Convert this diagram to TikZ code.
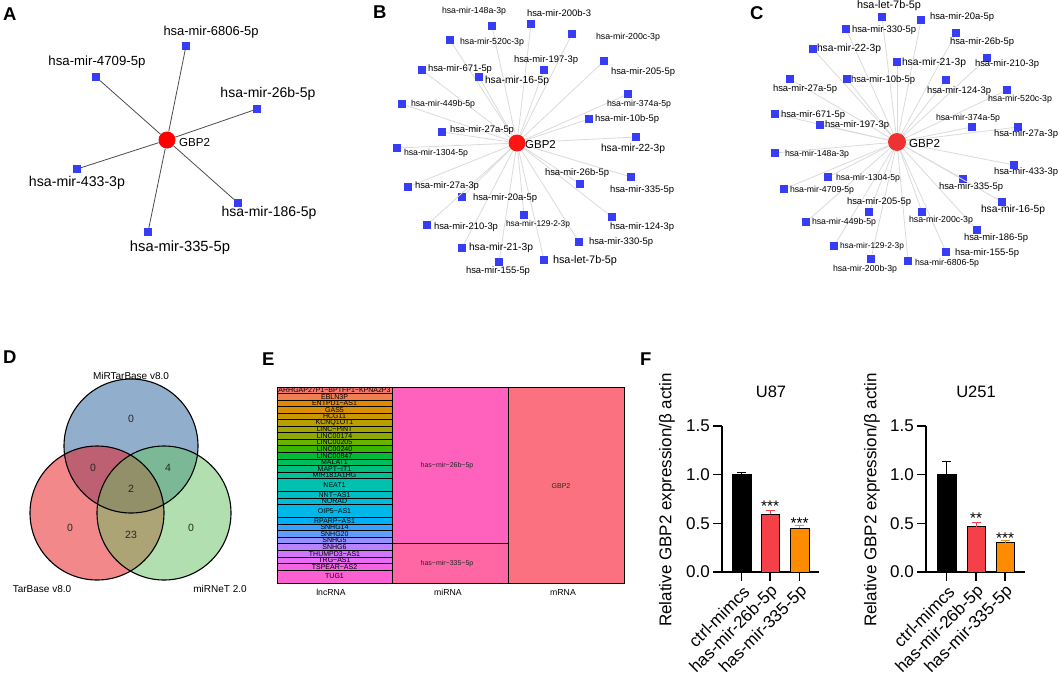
\documentclass[tikz,border=0pt]{standalone}
\usepackage{fontspec}
\setmainfont{Liberation Sans}
\definecolor{sqblue}{RGB}{55,60,245}
\definecolor{hubredA}{RGB}{255,0,0}
\definecolor{hubredB}{RGB}{255,20,20}
\definecolor{hubredC}{RGB}{238,50,50}
\definecolor{vblue}{RGB}{37,97,157}
\definecolor{vred}{RGB}{233,19,23}
\definecolor{vgreen}{RGB}{103,193,97}
\definecolor{barred}{RGB}{244,64,70}
\definecolor{barorange}{RGB}{255,140,0}
\definecolor{e1}{HTML}{F8766D}\definecolor{e2}{HTML}{F07E4E}\definecolor{e3}{HTML}{E58700}
\definecolor{e4}{HTML}{D89000}\definecolor{e5}{HTML}{C99800}\definecolor{e6}{HTML}{B79F00}
\definecolor{e7}{HTML}{A3A500}\definecolor{e8}{HTML}{8CAB00}\definecolor{e9}{HTML}{6BB100}
\definecolor{e10}{HTML}{39B600}\definecolor{e11}{HTML}{00BA38}\definecolor{e12}{HTML}{00BD5C}
\definecolor{e13}{HTML}{00BF7D}\definecolor{e14}{HTML}{00C097}\definecolor{e15}{HTML}{00C0AF}
\definecolor{e16}{HTML}{00BFC4}\definecolor{e17}{HTML}{00BCD8}\definecolor{e18}{HTML}{00B8E7}
\definecolor{e19}{HTML}{00B0F6}\definecolor{e20}{HTML}{35A2FF}\definecolor{e21}{HTML}{619CFF}
\definecolor{e22}{HTML}{9590FF}\definecolor{e23}{HTML}{B983FF}\definecolor{e24}{HTML}{D376FF}
\definecolor{e25}{HTML}{E76BF3}\definecolor{e26}{HTML}{F564E3}\definecolor{e27}{HTML}{FD61D1}
\definecolor{e28}{HTML}{FF62BC}\definecolor{e29}{HTML}{FF67A4}\definecolor{e30}{HTML}{FC717F}
\newcommand\mylab[1]{\resizebox{64pt}{!}{#1}}
\def\Blist{1/492/26/474/11/hsa-mir-148a-3p, 2/531/24/559/13/hsa-mir-200b-3, 3/450/40/492/42/hsa-mir-520c-3p,
4/572/34/628/37/hsa-mir-200c-3p, 5/544/70/546/60/hsa-mir-197-3p, 6/604/61/643/72/hsa-mir-205-5p,
7/422/70/460/69/hsa-mir-671-5p, 8/479/77/517/81/hsa-mir-16-5p, 9/402/104/443/104/hsa-mir-449b-5p,
10/628/94/639/104/hsa-mir-374a-5p, 11/589/119/627/119/hsa-mir-10b-5p, 12/442/132/482/130/hsa-mir-27a-5p,
13/636/137/633/149/hsa-mir-22-3p, 14/397/148/436/153/hsa-mir-1304-5p, 15/580/184/577/173/hsa-mir-26b-5p,
16/631/177/642/190/hsa-mir-335-5p, 17/408/187/447/186/hsa-mir-27a-3p, 18/462/197/505/198/hsa-mir-20a-5p,
19/524/215/538/224/hsa-mir-129-2-3p, 20/612/217/642/227/hsa-mir-124-3p, 21/427/225/466/227/hsa-mir-210-3p,
22/579/242/621/242/hsa-mir-330-5p, 23/462/248/501/248/hsa-mir-21-3p, 24/544/260/585/261/hsa-let-7b-5p,
25/499/262/498/271/hsa-mir-155-5p}
\def\Clist{1/882/17/889/6/hsa-let-7b-5p, 2/921/20/962/17/hsa-mir-20a-5p, 3/846/29/884/30/hsa-mir-330-5p,
4/956/33/982/42/hsa-mir-26b-5p, 5/813/49/849/49/hsa-mir-22-3p, 6/897/62/934/63/hsa-mir-21-3p,
7/987/58/1007/64/hsa-mir-210-3p, 8/790/79/805/89/hsa-mir-27a-5p, 9/847/79/883/80/hsa-mir-10b-5p,
10/946/80/959/91/hsa-mir-124-3p, 11/1007/90/1020/99/hsa-mir-520c-3p, 12/775/114/813/115/hsa-mir-671-5p,
13/820/125/857/125/hsa-mir-197-3p, 14/972/127/968/118/hsa-mir-374a-5p, 15/1018/127/1026/134/hsa-mir-27a-3p,
16/775/153/817/154/hsa-mir-148a-3p, 17/1014/165/1026/172/hsa-mir-433-3p, 18/828/177/868/178/hsa-mir-1304-5p,
19/963/179/971/187/hsa-mir-335-5p, 20/784/189/822/190/hsa-mir-4709-5p, 21/1002/202/1013/210/hsa-mir-16-5p,
22/869/212/879/202/hsa-mir-205-5p, 23/922/212/941/220/hsa-mir-200c-3p, 24/806/222/844/222/hsa-mir-449b-5p,
25/977/230/996/238/hsa-mir-186-5p, 26/834/246/872/246/hsa-mir-129-2-3p, 27/946/252/987/253/hsa-mir-155-5p,
28/871/259/865/269/hsa-mir-200b-3p, 29/908/261/947/263/hsa-mir-6806-5p}
\def\Erows{0/1/e1/{ARHGAP27P1−BPTFP1−KPNA2P3}, 1/1/e2/EBLN3P, 2/1/e3/{ENTPD1−AS1}, 3/1/e4/GAS5, 4/1/e5/HCG11,
5/1/e6/KCNQ1OT1, 6/1/e7/{LINC−PINT}, 7/1/e8/LINC00174, 8/1/e9/LINC00205, 9/1/e10/LINC00240,
10/1/e11/LINC00847, 11/1/e12/MALAT1, 12/1/e13/{MAPT−IT1}, 13/1/e14/MIR181A1HG, 14/2/e15/NEAT1,
16/1/e16/{NNT−AS1}, 17/1/e17/NORAD, 18/2/e18/{OIP5−AS1}, 20/1/e19/{RPARP−AS1}, 21/1/e20/SNHG14,
22/1/e21/SNHG20, 23/1/e22/SNHG5, 24/1/e23/SNHG6, 25/1/e24/{THUMPD3−AS1}, 26/1/e25/{TRG−AS1},
27/1/e26/{TSPEAR−AS2}, 28/2/e27/TUG1}
\begin{document}
\begin{tikzpicture}[x=1pt,y=-1pt,
  sq/.style={rectangle, fill=sqblue, minimum size=8pt, inner sep=0pt},
  hubnode/.style={circle, minimum size=17pt, inner sep=0pt},
  edgeA/.style={draw=black!70, line width=0.8pt},
  edgeL/.style={draw=black!14, line width=0.8pt},
  lbl/.style={inner sep=0pt},
  plab/.style={inner sep=0pt, anchor=base west, font=\fontsize{18.5}{20}\selectfont\bfseries},
  vc/.style={draw=black, line width=1.1pt},
  vtxt/.style={inner sep=0pt, font=\fontsize{10}{12}\selectfont},
  vnum/.style={inner sep=0pt, font=\fontsize{10.5}{12}\selectfont, text=black!85},
  cell/.style={draw=black, line width=0.7pt},
  celltxt/.style={inner sep=0pt, font=\fontsize{7}{7}\selectfont},
  axis/.style={line width=1.3pt},
  tl/.style={inner sep=0pt, font=\fontsize{17}{17}\selectfont},
  star/.style={inner sep=0pt, anchor=base, font=\fontsize{15.4}{16}\selectfont}]
\useasboundingbox (0,0) rectangle (1059,680);
\fill[white] (0,0) rectangle (1059,680);

% ---------- panel labels
\node[plab] (pA) at (3,20) {A};
\node[plab] (pB) at (373,18) {B};
\node[plab] (pC) at (750,19) {C};
\node[plab] (pD) at (3,363) {D};
\node[plab] (pE) at (262,365) {E};
\node[plab] (pF) at (640,365) {F};

% ---------- panel A
\node[hubnode, fill=hubredA] (ga) at (167,140) {};
\foreach \n/\sx/\sy in {1/186/46, 2/96/77, 3/257/109, 4/77/169, 5/238/203, 6/148/232}{
  \node[sq] (a\n) at (\sx,\sy) {};
  \draw[edgeA] (ga) -- (a\n);
}
\node[lbl, anchor=west, font=\fontsize{11.6}{12}\selectfont] (gat) at (179,143) {GBP2};
\node[lbl] (at1) at (211,32) {\resizebox{95pt}{!}{hsa-mir-6806-5p}};
\node[lbl] (at2) at (97,62) {\resizebox{97pt}{!}{hsa-mir-4709-5p}};
\node[lbl] (at3) at (268,94) {\resizebox{95pt}{!}{hsa-mir-26b-5p}};
\node[lbl] (at4) at (77,183) {\resizebox{96pt}{!}{hsa-mir-433-3p}};
\node[lbl] (at5) at (269,213) {\resizebox{95pt}{!}{hsa-mir-186-5p}};
\node[lbl] (at6) at (180,248) {\resizebox{100pt}{!}{hsa-mir-335-5p}};

% ---------- panel B
\node[hubnode, fill=hubredB] (gb) at (517,143) {};
\foreach \n/\sx/\sy/\lx/\ly/\txt in \Blist{
  \node[sq] (b\n) at (\sx,\sy) {};
  \draw[edgeL] (gb) -- (b\n);
}
\foreach \n/\sx/\sy/\lx/\ly/\txt in \Blist{
  \node[lbl] (bl\n) at (\lx,\ly) {\mylab{\txt}};
}
\node[lbl, anchor=west, font=\fontsize{11.5}{12}\selectfont] (gbt) at (525,145) {GBP2};

% ---------- panel C
\node[hubnode, minimum size=18pt, fill=hubredC] (gc) at (897,142) {};
\foreach \n/\sx/\sy/\lx/\ly/\txt in \Clist{
  \node[sq] (c\n) at (\sx,\sy) {};
  \draw[edgeL] (gc) -- (c\n);
}
\foreach \n/\sx/\sy/\lx/\ly/\txt in \Clist{
  \node[lbl] (cl\n) at (\lx,\ly) {\mylab{\txt}};
}
\node[lbl, anchor=west, font=\fontsize{11.6}{12}\selectfont] (gct) at (909,144) {GBP2};

% ---------- panel D (Venn)
\fill[vblue, fill opacity=0.5] (131,446) circle[radius=67pt];
\fill[vred, fill opacity=0.5] (97,513) circle[radius=67pt];
\fill[vgreen, fill opacity=0.5] (164,513) circle[radius=67pt];
\draw[vc] (131,446) circle[radius=67pt];
\draw[vc] (97,513) circle[radius=67pt];
\draw[vc] (164,513) circle[radius=67pt];
\node[vtxt] (dl1) at (131,376) {MiRTarBase v8.0};
\node[vtxt] (dl2) at (42,589) {TarBase v8.0};
\node[vtxt] (dl3) at (220,589) {miRNeT 2.0};
\node[vnum] (dn1) at (131,419) {0};
\node[vnum] (dn2) at (93,468) {0};
\node[vnum] (dn3) at (168,468) {4};
\node[vnum] (dn4) at (131,489) {2};
\node[vnum] (dn5) at (70,528) {0};
\node[vnum] (dn6) at (131,535) {23};
\node[vnum] (dn7) at (191,528) {0};

% ---------- panel E (treemap)
\filldraw[fill=e28, cell] (392,387) rectangle (508,543.8);
\filldraw[fill=e29, cell] (392,543.8) rectangle (508,583);
\filldraw[fill=e30, cell] (508,387) rectangle (624,583);
\node[celltxt, text=black!85] (m1) at (447,466) {has−mir−26b−5p};
\node[celltxt, text=black!85] (m2) at (447,564) {has−mir−335−5p};
\node[celltxt, text=black!85] (m3) at (561,486) {GBP2};
\foreach \ys/\hh/\col/\txt in \Erows{
  \filldraw[fill=\col, cell] (277,{387+\ys*6.5333}) rectangle (392,{387+(\ys+\hh)*6.5333});
  \node[celltxt] (r\ys) at (334.5,{387+(\ys+\hh/2)*6.5333}) {\txt};
}
\node[lbl, font=\fontsize{8.7}{9}\selectfont] (ex1) at (331,592) {lncRNA};
\node[lbl, font=\fontsize{8.7}{9}\selectfont] (ex2) at (448,592) {miRNA};
\node[lbl, font=\fontsize{8.7}{9}\selectfont] (ex3) at (563,592) {mRNA};

% ---------- panel F, U87
\node[lbl, font=\fontsize{16.5}{17}\selectfont] (t1) at (771,392) {U87};
\node[tl, rotate=90] (y1) at (667,500) {Relative GBP2 expression/β actin};
\draw[axis] (722,426) -- (722,572) -- (819,572);
\foreach \i/\v/\l in {0/0/0.0, 1/0.5/0.5, 2/1/1.0, 3/1.5/1.5}{
  \draw[axis] (713,{572-97.33*\v}) -- (722,{572-97.33*\v});
  \node[tl, anchor=east] (ua\i) at (710,{572-97.33*\v}) {\l};
}
\filldraw[fill=black, draw=black, line width=1pt] (732,572) rectangle (751,474.7);
\draw[line width=1pt] (741.5,474.7) -- (741.5,472) (737,472) -- (746,472);
\filldraw[fill=barred, draw=black, line width=1pt] (761,572) rectangle (779,514);
\draw[barred, line width=1pt] (770,514) -- (770,510.7) (765.5,510.7) -- (774.5,510.7);
\filldraw[fill=barorange, draw=black, line width=1pt] (790,572) rectangle (809,528.2);
\draw[barorange, line width=1pt] (799.5,528.2) -- (799.5,525.3) (795,525.3) -- (804,525.3);
\foreach \x in {741.5,770,799.5}{\draw[axis] (\x,572) -- (\x,581);}
\node[star] (s1) at (770,511.5) {***};
\node[star] (s2) at (799.5,528) {***};
\node[tl, rotate=45, anchor=east] (ux1) at (746.5,589) {ctrl-mimcs};
\node[tl, rotate=45, anchor=east] (ux2) at (775,589) {has-mir-26b-5p};
\node[tl, rotate=45, anchor=east] (ux3) at (804.5,589) {has-mir-335-5p};

% ---------- panel F, U251
\node[lbl, font=\fontsize{16.5}{17}\selectfont] (t2) at (976,392) {U251};
\node[tl, rotate=90] (y2) at (872,500) {Relative GBP2 expression/β actin};
\draw[axis] (926,426) -- (926,572) -- (1025,572);
\foreach \i/\v/\l in {0/0/0.0, 1/0.5/0.5, 2/1/1.0, 3/1.5/1.5}{
  \draw[axis] (917,{572-97.33*\v}) -- (926,{572-97.33*\v});
  \node[tl, anchor=east] (ub\i) at (914,{572-97.33*\v}) {\l};
}
\filldraw[fill=black, draw=black, line width=1pt] (937,572) rectangle (956,474.7);
\draw[line width=1pt] (946.5,474.7) -- (946.5,461.7) (942,461.7) -- (951,461.7);
\filldraw[fill=barred, draw=black, line width=1pt] (967,572) rectangle (985,526.7);
\draw[barred, line width=1pt] (976,526.7) -- (976,522.3) (971.5,522.3) -- (980.5,522.3);
\filldraw[fill=barorange, draw=black, line width=1pt] (996,572) rectangle (1014,542.7);
\draw[barorange, line width=1pt] (1005,542.7) -- (1005,540.3) (1000.5,540.3) -- (1009.5,540.3);
\foreach \x in {946.5,976,1005}{\draw[axis] (\x,572) -- (\x,581);}
\node[star] (s3) at (976,523) {**};
\node[star] (s4) at (1005,543) {***};
\node[tl, rotate=45, anchor=east] (vx1) at (951.5,589) {ctrl-mimcs};
\node[tl, rotate=45, anchor=east] (vx2) at (981,589) {has-mir-26b-5p};
\node[tl, rotate=45, anchor=east] (vx3) at (1010,589) {has-mir-335-5p};
\end{tikzpicture}
\end{document}
